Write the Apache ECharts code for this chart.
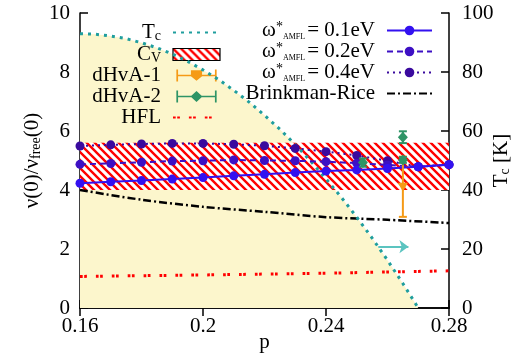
<!DOCTYPE html>
<html>
<head>
<meta charset="utf-8">
<script src="https://cdn.jsdelivr.net/npm/echarts@6/dist/echarts.min.js"></script>
<style>
  html, body { margin: 0; padding: 0; background: #fff; }
  #chart { width: 529px; height: 360px; }
</style>
</head>
<body>
<div id="chart"></div>
<script>
// doping p and nu(0)/nu_free(0) for the three AMFL cutoffs
const pValues = [0.16, 0.17, 0.18, 0.19, 0.2, 0.21, 0.22, 0.23, 0.24, 0.25, 0.26, 0.27, 0.28];
const nuW01 = [4.23, 4.28, 4.32, 4.37, 4.42, 4.48, 4.53, 4.59, 4.64, 4.68, 4.73, 4.79, 4.86];
const nuW02 = [4.87, 4.90, 4.94, 4.98, 4.99, 5.02, 5.00, 4.99, 4.96, 4.91, 4.85, 4.79, 4.86];
const nuW04 = [5.49, 5.53, 5.56, 5.58, 5.58, 5.55, 5.50, 5.41, 5.30, 5.17, 4.99, 4.79, 4.86];

// Tc dome (right axis, K)
const tcP = [0.16, 0.165, 0.17, 0.175, 0.18, 0.185, 0.19, 0.195, 0.2, 0.205, 0.21, 0.215,
             0.22, 0.225, 0.23, 0.235, 0.24, 0.245, 0.25, 0.255, 0.26, 0.265, 0.27];
const tcK = [93.0, 92.8, 92.2, 91.3, 89.9, 88.2, 86.1, 83.6, 80.7, 77.5, 73.8, 69.8,
             65.3, 60.6, 55.4, 49.8, 43.8, 37.5, 30.8, 23.7, 16.2, 8.3, 0];

// Brinkman-Rice and HFL
const brP = [0.16, 0.18, 0.2, 0.22, 0.24, 0.26, 0.28];
const brNu = [4.0, 3.67, 3.43, 3.26, 3.08, 2.99, 2.88];
const hflP = [0.16, 0.2, 0.24, 0.28];
const hflNu = [1.07, 1.12, 1.18, 1.26];

// Cv band
const cvP = [0.16, 0.28];
const cvLow = 4.0;
const cvHigh = 5.6;

// dHvA points with errors
const dhva1P = [0.265];
const dhva1Nu = [4.11];
const dhva1Err = [1.02];
const dhva2P = [0.252, 0.265, 0.265];
const dhva2Nu = [4.93, 5.02, 5.79];
const dhva2Err = [0.14, 0.1, 0.2];

// arrow pointing to the Tc axis
const arrowP = [0.257, 0.2668];
const arrowK = 20.8;

const FONT = "'Liberation Serif', 'Times New Roman', serif";
const pairs = (xs, ys) => xs.map((x, i) => [x, ys[i]]);

// red hatch for the Cv band
const hatch = document.createElement('canvas');
hatch.width = 8;
hatch.height = 8;
const hg = hatch.getContext('2d');
hg.fillStyle = '#fff';
hg.fillRect(0, 0, 8, 8);
hg.strokeStyle = '#ff0000';
hg.lineWidth = 2.4;
hg.beginPath();
hg.moveTo(-2, -2); hg.lineTo(10, 10);
hg.moveTo(-2, 6); hg.lineTo(2, 10);
hg.moveTo(6, -2); hg.lineTo(10, 2);
hg.stroke();
const hatchFill = { image: hatch, repeat: 'repeat' };

function errorBarItem(marker) {
  return function (params, api) {
    const p = api.value(0), v = api.value(1), e = api.value(2);
    const c = api.coord([p, v]);
    const lo = api.coord([p, v - e]);
    const hi = api.coord([p, v + e]);
    const color = api.visual('color');
    const st = { stroke: color, lineWidth: 2 };
    const pts = marker === 'triangle'
      ? [[c[0] - 5, c[1] - 4], [c[0] + 5, c[1] - 4], [c[0], c[1] + 5]]
      : [[c[0], c[1] - 5.5], [c[0] + 5, c[1]], [c[0], c[1] + 5.5], [c[0] - 5, c[1]]];
    return {
      type: 'group',
      children: [
        { type: 'line', shape: { x1: lo[0], y1: lo[1], x2: hi[0], y2: hi[1] }, style: st },
        { type: 'line', shape: { x1: lo[0] - 4, y1: lo[1], x2: lo[0] + 4, y2: lo[1] }, style: st },
        { type: 'line', shape: { x1: hi[0] - 4, y1: hi[1], x2: hi[0] + 4, y2: hi[1] }, style: st },
        { type: 'polygon', shape: { points: pts }, style: { fill: color } }
      ]
    };
  };
}

const errIconTri = 'path://M0,0L2,0L2,6L17,6L17,1L30,1L30,6L45,6L45,0L47,0L47,14L45,14L45,8L30,8L23.5,13L17,8L2,8L2,14L0,14Z';
const errIconDia = 'path://M0,0L2,0L2,6L17.5,6L23.5,0.5L29.5,6L45,6L45,0L47,0L47,14L45,14L45,8L29.5,8L23.5,13.5L17.5,8L2,8L2,14L0,14Z';
const noMarker = { color: 'rgba(0,0,0,0)', borderColor: 'rgba(0,0,0,0)', borderWidth: 0 };

const legendLabels = {
  Tc: '{m|T}{s|c}',
  Cv: '{m|C}{s|V}',
  'dHvA-1': '{m|dHvA-1}',
  'dHvA-2': '{m|dHvA-2}',
  HFL: '{m|HFL}',
  w01: '{m|ω}{sup|*}{t|AMFL}{m|= 0.1eV}',
  w02: '{m|ω}{sup|*}{t|AMFL}{m|= 0.2eV}',
  w04: '{m|ω}{sup|*}{t|AMFL}{m|= 0.4eV}',
  BR: '{m|Brinkman-Rice}'
};
const legendRich = {
  m: { fontSize: 21, fontFamily: FONT, color: '#000', lineHeight: 21 },
  s: { fontSize: 14, fontFamily: FONT, color: '#000', lineHeight: 14, verticalAlign: 'bottom', padding: [8, 0, 0, 0] },
  sup: { fontSize: 14, fontFamily: FONT, color: '#000', lineHeight: 14, verticalAlign: 'top' },
  t: { fontSize: 8, fontFamily: FONT, color: '#000', lineHeight: 8, verticalAlign: 'bottom', padding: [10, 2, 0, 0] }
};

const axisText = { color: '#000', fontSize: 21, fontFamily: FONT };
const axisLineStyle = { color: '#000', width: 1.5 };

const chart = echarts.init(document.getElementById('chart'));
chart.setOption({
  animation: false,
  textStyle: { fontFamily: FONT },
  grid: { left: 80, right: 80, top: 13, bottom: 52, outerBoundsMode: 'none', containLabel: false },
  legend: [
    {
      orient: 'vertical', right: 308, top: 21, align: 'right', padding: 0,
      itemWidth: 47, itemHeight: 12, itemGap: 0, selectedMode: false,
      formatter: n => legendLabels[n],
      textStyle: { rich: legendRich, padding: [0, 7, 0, 0] },
      data: [
        { name: 'Tc', itemStyle: noMarker },
        { name: 'Cv', icon: 'rect', itemStyle: { borderColor: '#000', borderWidth: 1.2 } },
        { name: 'dHvA-1', icon: errIconTri },
        { name: 'dHvA-2', icon: errIconDia },
        { name: 'HFL', itemStyle: noMarker }
      ]
    },
    {
      orient: 'vertical', right: 96, top: 20, align: 'right', padding: 0,
      itemWidth: 45, itemHeight: 12, itemGap: 0, selectedMode: false,
      formatter: n => legendLabels[n],
      textStyle: { rich: legendRich, padding: [0, 7, 0, 0] },
      data: ['w01', 'w02', 'w04', { name: 'BR', itemStyle: noMarker }]
    }
  ],
  xAxis: [
    {
      type: 'value', min: 0.16, max: 0.28, interval: 0.04,
      name: 'p', nameLocation: 'middle', nameGap: 24, nameMoveOverlap: false, nameTextStyle: axisText,
      axisLine: { lineStyle: axisLineStyle },
      axisTick: { inside: true, length: 8, lineStyle: axisLineStyle },
      axisLabel: { ...axisText, margin: 8, formatter: v => String(Math.round(v * 100) / 100) },
      splitLine: { show: false }
    },
    {
      type: 'value', position: 'top', min: 0.16, max: 0.28, interval: 0.04,
      axisLine: { lineStyle: axisLineStyle },
      axisTick: { inside: true, length: 8, lineStyle: axisLineStyle },
      axisLabel: { show: false },
      splitLine: { show: false }
    }
  ],
  yAxis: [
    {
      type: 'value', min: 0, max: 10, interval: 2,
      name: '{m|ν(0)/ν}{s|free}{m|(0)}', nameLocation: 'middle', nameGap: 37, nameRotate: 90,
      nameMoveOverlap: false, nameTextStyle: { rich: legendRich },
      axisLine: { lineStyle: axisLineStyle },
      axisTick: { inside: true, length: 8, lineStyle: axisLineStyle },
      axisLabel: { ...axisText, margin: 10 },
      splitLine: { show: false }
    },
    {
      type: 'value', position: 'right', min: 0, max: 100, interval: 20,
      name: '{m|T}{s|c}{m| [K]}', nameLocation: 'middle', nameGap: 42, nameRotate: 90,
      nameMoveOverlap: false, nameTextStyle: { rich: legendRich },
      axisLine: { lineStyle: axisLineStyle },
      axisTick: { inside: true, length: 8, lineStyle: axisLineStyle },
      axisLabel: { ...axisText, margin: 13 },
      splitLine: { show: false }
    }
  ],
  series: [
    {
      name: 'TcArea', type: 'line', yAxisIndex: 1, z: 1, silent: true,
      data: pairs(tcP, tcK), symbol: 'none',
      lineStyle: { width: 0 },
      areaStyle: { color: '#fcf6cc', opacity: 1 }
    },
    {
      name: 'Cv', type: 'custom', z: 2, silent: true,
      itemStyle: { color: hatchFill },
      encode: { x: [0, 1], y: [2, 3] },
      data: [[cvP[0], cvP[1], cvLow, cvHigh]],
      renderItem: function (params, api) {
        const tl = api.coord([api.value(0), api.value(3)]);
        const br = api.coord([api.value(1), api.value(2)]);
        return {
          type: 'rect',
          shape: { x: tl[0], y: tl[1], width: br[0] - tl[0], height: br[1] - tl[1] },
          style: { fill: hatchFill }
        };
      }
    },
    {
      name: 'HFL', type: 'line', z: 3, data: pairs(hflP, hflNu), symbol: 'none',
      lineStyle: { color: '#ff0000', width: 3, type: [2.7, 1.5, 2.7, 9] },
      itemStyle: { color: '#ff0000' }
    },
    {
      name: 'BR', type: 'line', z: 3, data: pairs(brP, brNu), symbol: 'none', smooth: 0.3,
      lineStyle: { color: '#000', width: 2.5, type: [8, 3, 2, 3] },
      itemStyle: { color: '#000' }
    },
    {
      name: 'Tc', type: 'line', yAxisIndex: 1, z: 4, data: pairs(tcP, tcK), symbol: 'none',
      lineStyle: { color: '#1f9e9e', width: 3, type: [3, 5] },
      itemStyle: { color: '#1f9e9e' },
      markLine: {
        silent: true, symbol: ['none', 'arrow'], symbolSize: [10, 9],
        label: { show: false },
        lineStyle: { color: '#5bc4c0', width: 2, type: 'solid' },
        data: [[{ coord: [arrowP[0], arrowK] }, { coord: [arrowP[1], arrowK] }]]
      }
    },
    {
      name: 'w04', type: 'line', z: 5, data: pairs(pValues, nuW04),
      symbol: 'circle', symbolSize: 9,
      lineStyle: { color: '#3a0a9e', width: 2, type: [2, 4] },
      itemStyle: { color: '#3a0a9e' }
    },
    {
      name: 'w02', type: 'line', z: 5, data: pairs(pValues, nuW02),
      symbol: 'circle', symbolSize: 9,
      lineStyle: { color: '#3d10c4', width: 2, type: [6, 4] },
      itemStyle: { color: '#3d10c4' }
    },
    {
      name: 'w01', type: 'line', z: 5, data: pairs(pValues, nuW01),
      symbol: 'circle', symbolSize: 9,
      lineStyle: { color: '#3311f0', width: 2 },
      itemStyle: { color: '#3311f0' }
    },
    {
      name: 'dHvA-1', type: 'custom', z: 6,
      itemStyle: { color: '#f59a16' },
      encode: { x: 0, y: 1 },
      data: dhva1P.map((p, i) => [p, dhva1Nu[i], dhva1Err[i]]),
      renderItem: errorBarItem('triangle')
    },
    {
      name: 'dHvA-2', type: 'custom', z: 6,
      itemStyle: { color: '#2e9466' },
      encode: { x: 0, y: 1 },
      data: dhva2P.map((p, i) => [p, dhva2Nu[i], dhva2Err[i]]),
      renderItem: errorBarItem('diamond')
    }
  ]
});
</script>
</body>
</html>
